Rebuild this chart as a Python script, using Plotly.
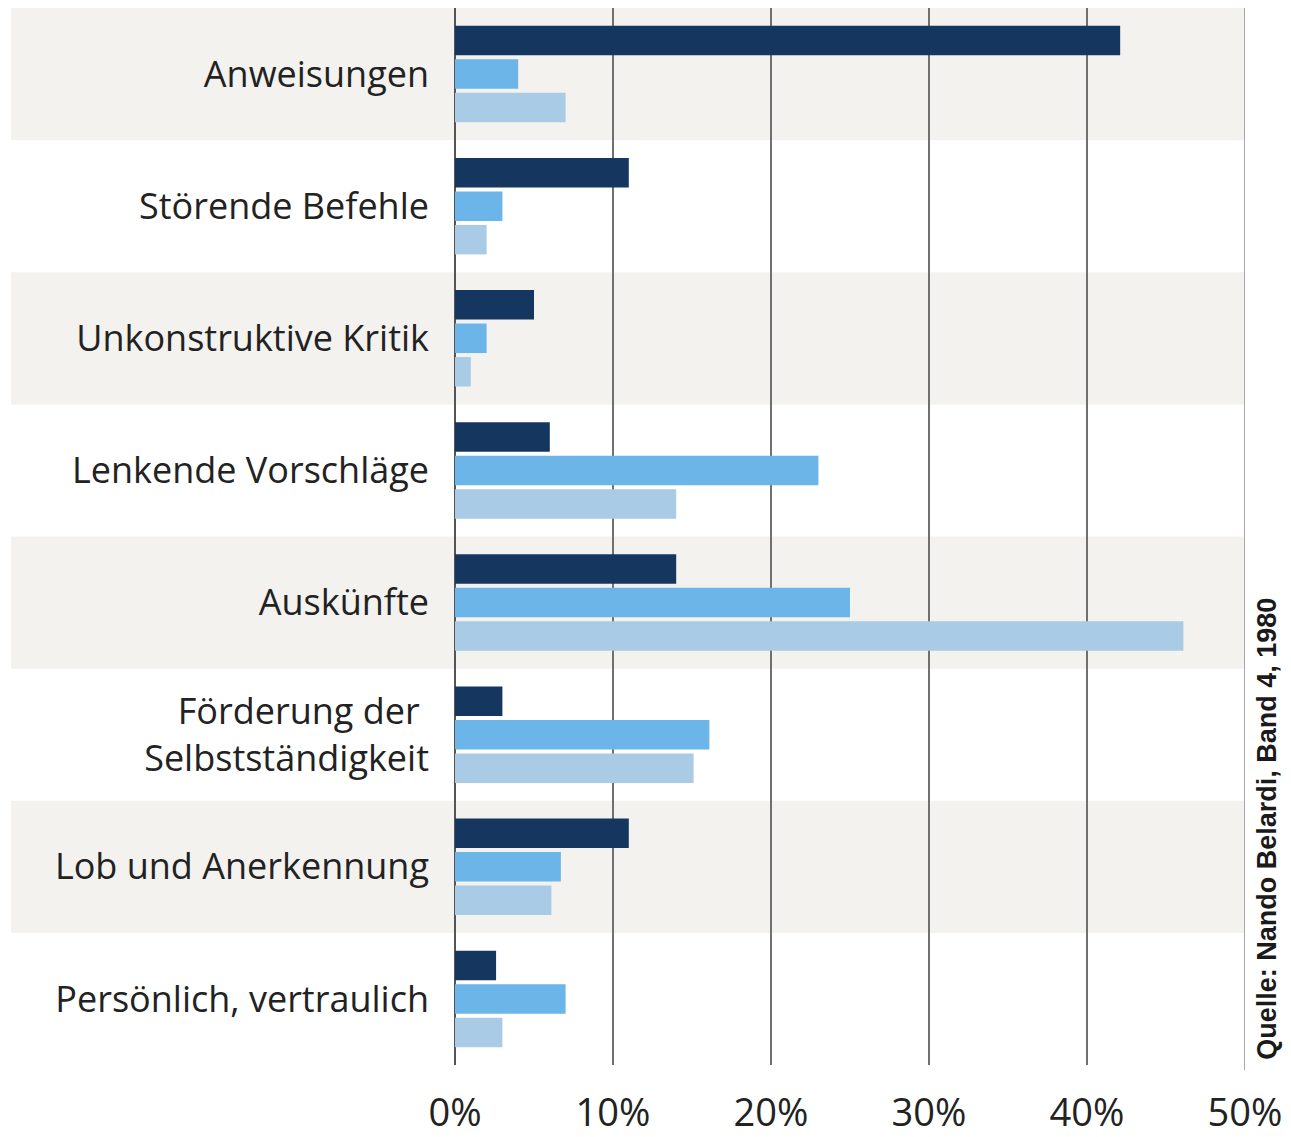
import plotly.graph_objects as go

categories = ["Anweisungen", "Störende Befehle", "Unkonstruktive Kritik", "Lenkende Vorschläge",
              "Auskünfte", "Förderung der <br>Selbstständigkeit", "Lob und Anerkennung", "Persönlich, vertraulich"]
series_dark = [42.1, 11.0, 5.0, 6.0, 14.0, 3.0, 11.0, 2.6]
series_mid = [4.0, 3.0, 2.0, 23.0, 25.0, 16.1, 6.7, 7.0]
series_light = [7.0, 2.0, 1.0, 14.0, 46.1, 15.1, 6.1, 3.0]
tick_vals = [0, 10, 20, 30, 40, 50]
tick_text = ["0%", "10%", "20%", "30%", "40%", "50%"]
source_text = "Quelle: Nando Belardi, Band 4, 1980"

colors = ["#15375f", "#6bb5e9", "#a9cbe5"]
font_family = "Open Sans, Noto Sans, sans-serif"

fig = go.Figure()
for vals, col in zip([series_dark, series_mid, series_light], colors):
    fig.add_trace(go.Bar(y=categories, x=vals, orientation="h", marker=dict(color=col, line=dict(width=0)),
                         showlegend=False, hoverinfo="skip"))

W, H = 1291, 1137
L, R, T, B = 455, 46, 8, 72
plot_w = W - L - R
shapes = []
n = len(categories)
for i in range(n):
    if i % 2 == 0:
        shapes.append(dict(type="rect", xref="paper", yref="paper",
                           x0=-(L - 11) / plot_w, x1=1.0,
                           y0=1 - (i + 1) / n, y1=1 - i / n,
                           fillcolor="#f3f2ef", line=dict(width=0), layer="below"))
# right boundary line at the last tick (50%)
shapes.append(dict(type="line", xref="x", yref="paper", x0=tick_vals[-1], x1=tick_vals[-1],
                   y0=-0.005, y1=1.0, line=dict(color="#a8a8a8", width=2), layer="below"))

fig.update_layout(
    width=W, height=H,
    margin=dict(l=L, r=R, t=T, b=B, autoexpand=False),
    paper_bgcolor="white", plot_bgcolor="rgba(0,0,0,0)",
    barmode="group", bargap=0.24, bargroupgap=0.12,
    font=dict(family=font_family, color="#222222", size=36),
    shapes=shapes,
    xaxis=dict(range=[0, 50], tickvals=tick_vals, ticktext=tick_text, showgrid=True,
               gridcolor="#707070", gridwidth=1.5, zeroline=True, zerolinecolor="#555555",
               zerolinewidth=1.5, showline=False, automargin=False,
               ticks="", ticklabelstandoff=22, tickfont=dict(size=38), fixedrange=True),
    yaxis=dict(autorange="reversed", showgrid=False, ticks="", ticklabelstandoff=25, automargin=False,
               tickfont=dict(size=36), showline=False, zeroline=False, fixedrange=True),
    annotations=[dict(text="<b>" + source_text + "</b>", textangle=-90, xref="paper", yref="paper",
                      x=(1267 - L) / plot_w, y=0.003, xanchor="center", yanchor="bottom", showarrow=False,
                      font=dict(family="Liberation Sans, Arial, sans-serif", size=27, color="#1a1a1a"))],
)

fig.write_html("out.html", config={"displayModeBar": False},
               post_script="document.body.style.margin='0';")
